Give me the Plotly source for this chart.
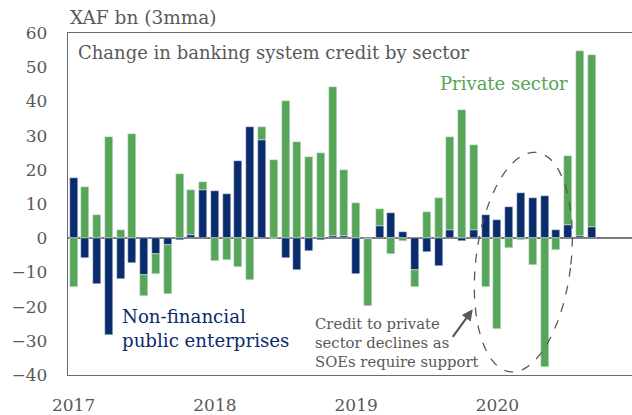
import math
import pandas as pd
import plotly.graph_objects as go

# Monthly changes in banking-system credit, XAF bn (3-month moving average)
months = [d.strftime("%b %Y") for d in pd.date_range("2017-01-01", "2020-09-01", freq="MS")]

public_enterprises = [
    17.5, -5.8, -13.5, -28.2, -11.9, -7.2, -10.9, -4.5, -1.9, -0.6, 1.0, 14.2,
    13.7, 13.0, 22.5, 32.4, 28.8, 0.0, -5.9, -9.4, -3.7, -0.6, 0.7, 0.7,
    -10.6, -0.3, 3.6, 7.4, 1.7, -9.2, -4.0, -8.0, 2.3, -0.8, 2.3, 6.7,
    5.3, 9.0, 13.3, 11.7, 12.3, 2.4, 4.0, 0.6, 3.2,
]
private_sector = [
    -14.2, 15.0, 6.9, 29.5, 2.3, 30.5, -6.1, -6.0, -14.5, 18.8, 13.1, 2.2,
    -6.6, -6.3, -8.3, -12.2, 3.6, 22.8, 40.0, 28.2, 23.6, 24.9, 43.6, 19.3,
    10.3, -19.5, 4.8, -4.5, -0.9, -5.1, 7.6, 11.9, 27.2, 37.5, 24.9, -14.3,
    -26.6, -2.8, -0.5, -7.9, -37.8, -3.4, 19.9, 54.0, 50.4,
]
year_ticks = ["Jan 2017", "Jan 2018", "Jan 2019", "Jan 2020"]
year_labels = ["2017", "2018", "2019", "2020"]

NAVY = "#0b2c6c"
GREEN = "#57a557"
GREY = "#595959"
FONT = "DejaVu Serif"

W, H = 632, 415
M_L, M_R, M_T, M_B = 68, 0, 33, 37
X_RANGE = [-0.475, 47.43]
Y_RANGE = [-40, 60]

fig = go.Figure()
fig.add_trace(go.Bar(x=months, y=public_enterprises, marker_color=NAVY,
                     width=0.68, name="Non-financial public enterprises"))
fig.add_trace(go.Bar(x=months, y=private_sector, marker_color=GREEN,
                     width=0.68, name="Private sector"))

# dashed ellipse around the 2020 bars, built in pixel space then mapped to data units
px_x = (W - M_L - M_R) / (X_RANGE[1] - X_RANGE[0])
px_y = (H - M_T - M_B) / (Y_RANGE[1] - Y_RANGE[0])
cx, cy = 38.2, -7.0
a_px, b_px, tilt = 111.5, 47.5, math.radians(6.9)
pts = []
for i in range(73):
    t = 2 * math.pi * i / 72
    dx = b_px * math.cos(t) * math.cos(tilt) - a_px * math.sin(t) * math.sin(tilt)
    dy = b_px * math.cos(t) * math.sin(tilt) + a_px * math.sin(t) * math.cos(tilt)
    pts.append((cx + dx / px_x, cy - dy / px_y))
path = "M " + " L ".join(f"{x:.4f},{y:.4f}" for x, y in pts) + " Z"
fig.add_shape(type="path", path=path, xref="x", yref="y",
              line=dict(color=GREY, width=1.3, dash="dash"))

def paper(px, py):
    return (px - M_L) / (W - M_L - M_R), (H - M_B - py) / (H - M_T - M_B)

texts = [
    ("XAF bn (3mma)", 68, 17, GREY, 18.5, "left"),
    ("Change in banking system credit by sector", 76, 53, GREY, 18, "left"),
    ("Private sector", 438, 84, GREEN, 18, "left"),
    ("Non-financial<br>public enterprises", 120, 331, NAVY, 18.2, "left"),
    ("Credit to private<br>sector declines as<br>SOEs require support", 313, 345, GREY, 14.8, "left"),
]
for txt, px, py, col, size, anchor in texts:
    xp, yp = paper(px, py)
    fig.add_annotation(text=txt, x=xp, y=yp, xref="paper", yref="paper",
                       xanchor=anchor, yanchor="middle", align="left",
                       showarrow=False, font=dict(family=FONT, size=size, color=col))

fig.add_annotation(x=33.9, y=-20.8, xref="x", yref="y", ax=-21, ay=29,
                   showarrow=True, arrowhead=2, arrowsize=1, arrowwidth=2.2,
                   arrowcolor=GREY, text="")

fig.update_layout(
    width=W, height=H, margin=dict(l=M_L, r=M_R, t=M_T, b=M_B),
    barmode="relative", bargap=0, showlegend=False,
    plot_bgcolor="white", paper_bgcolor="white",
    font=dict(family=FONT, color=GREY),
)
fig.update_xaxes(type="category", range=X_RANGE, tickvals=year_ticks, ticktext=year_labels,
                 showgrid=False, showline=True, mirror=True, linecolor="#6b6b6b", linewidth=1.3,
                 ticks="", tickfont=dict(size=17, color=GREY), ticklabelstandoff=14)
fig.update_yaxes(range=Y_RANGE, dtick=10, showgrid=False, showline=True, linecolor="#6b6b6b",
                 linewidth=1.3, zeroline=True, zerolinecolor="#7a7a7a", zerolinewidth=1.8,
                 ticks="", tickfont=dict(size=17, color=GREY), ticklabelstandoff=16)

fig.write_html("out.html")
